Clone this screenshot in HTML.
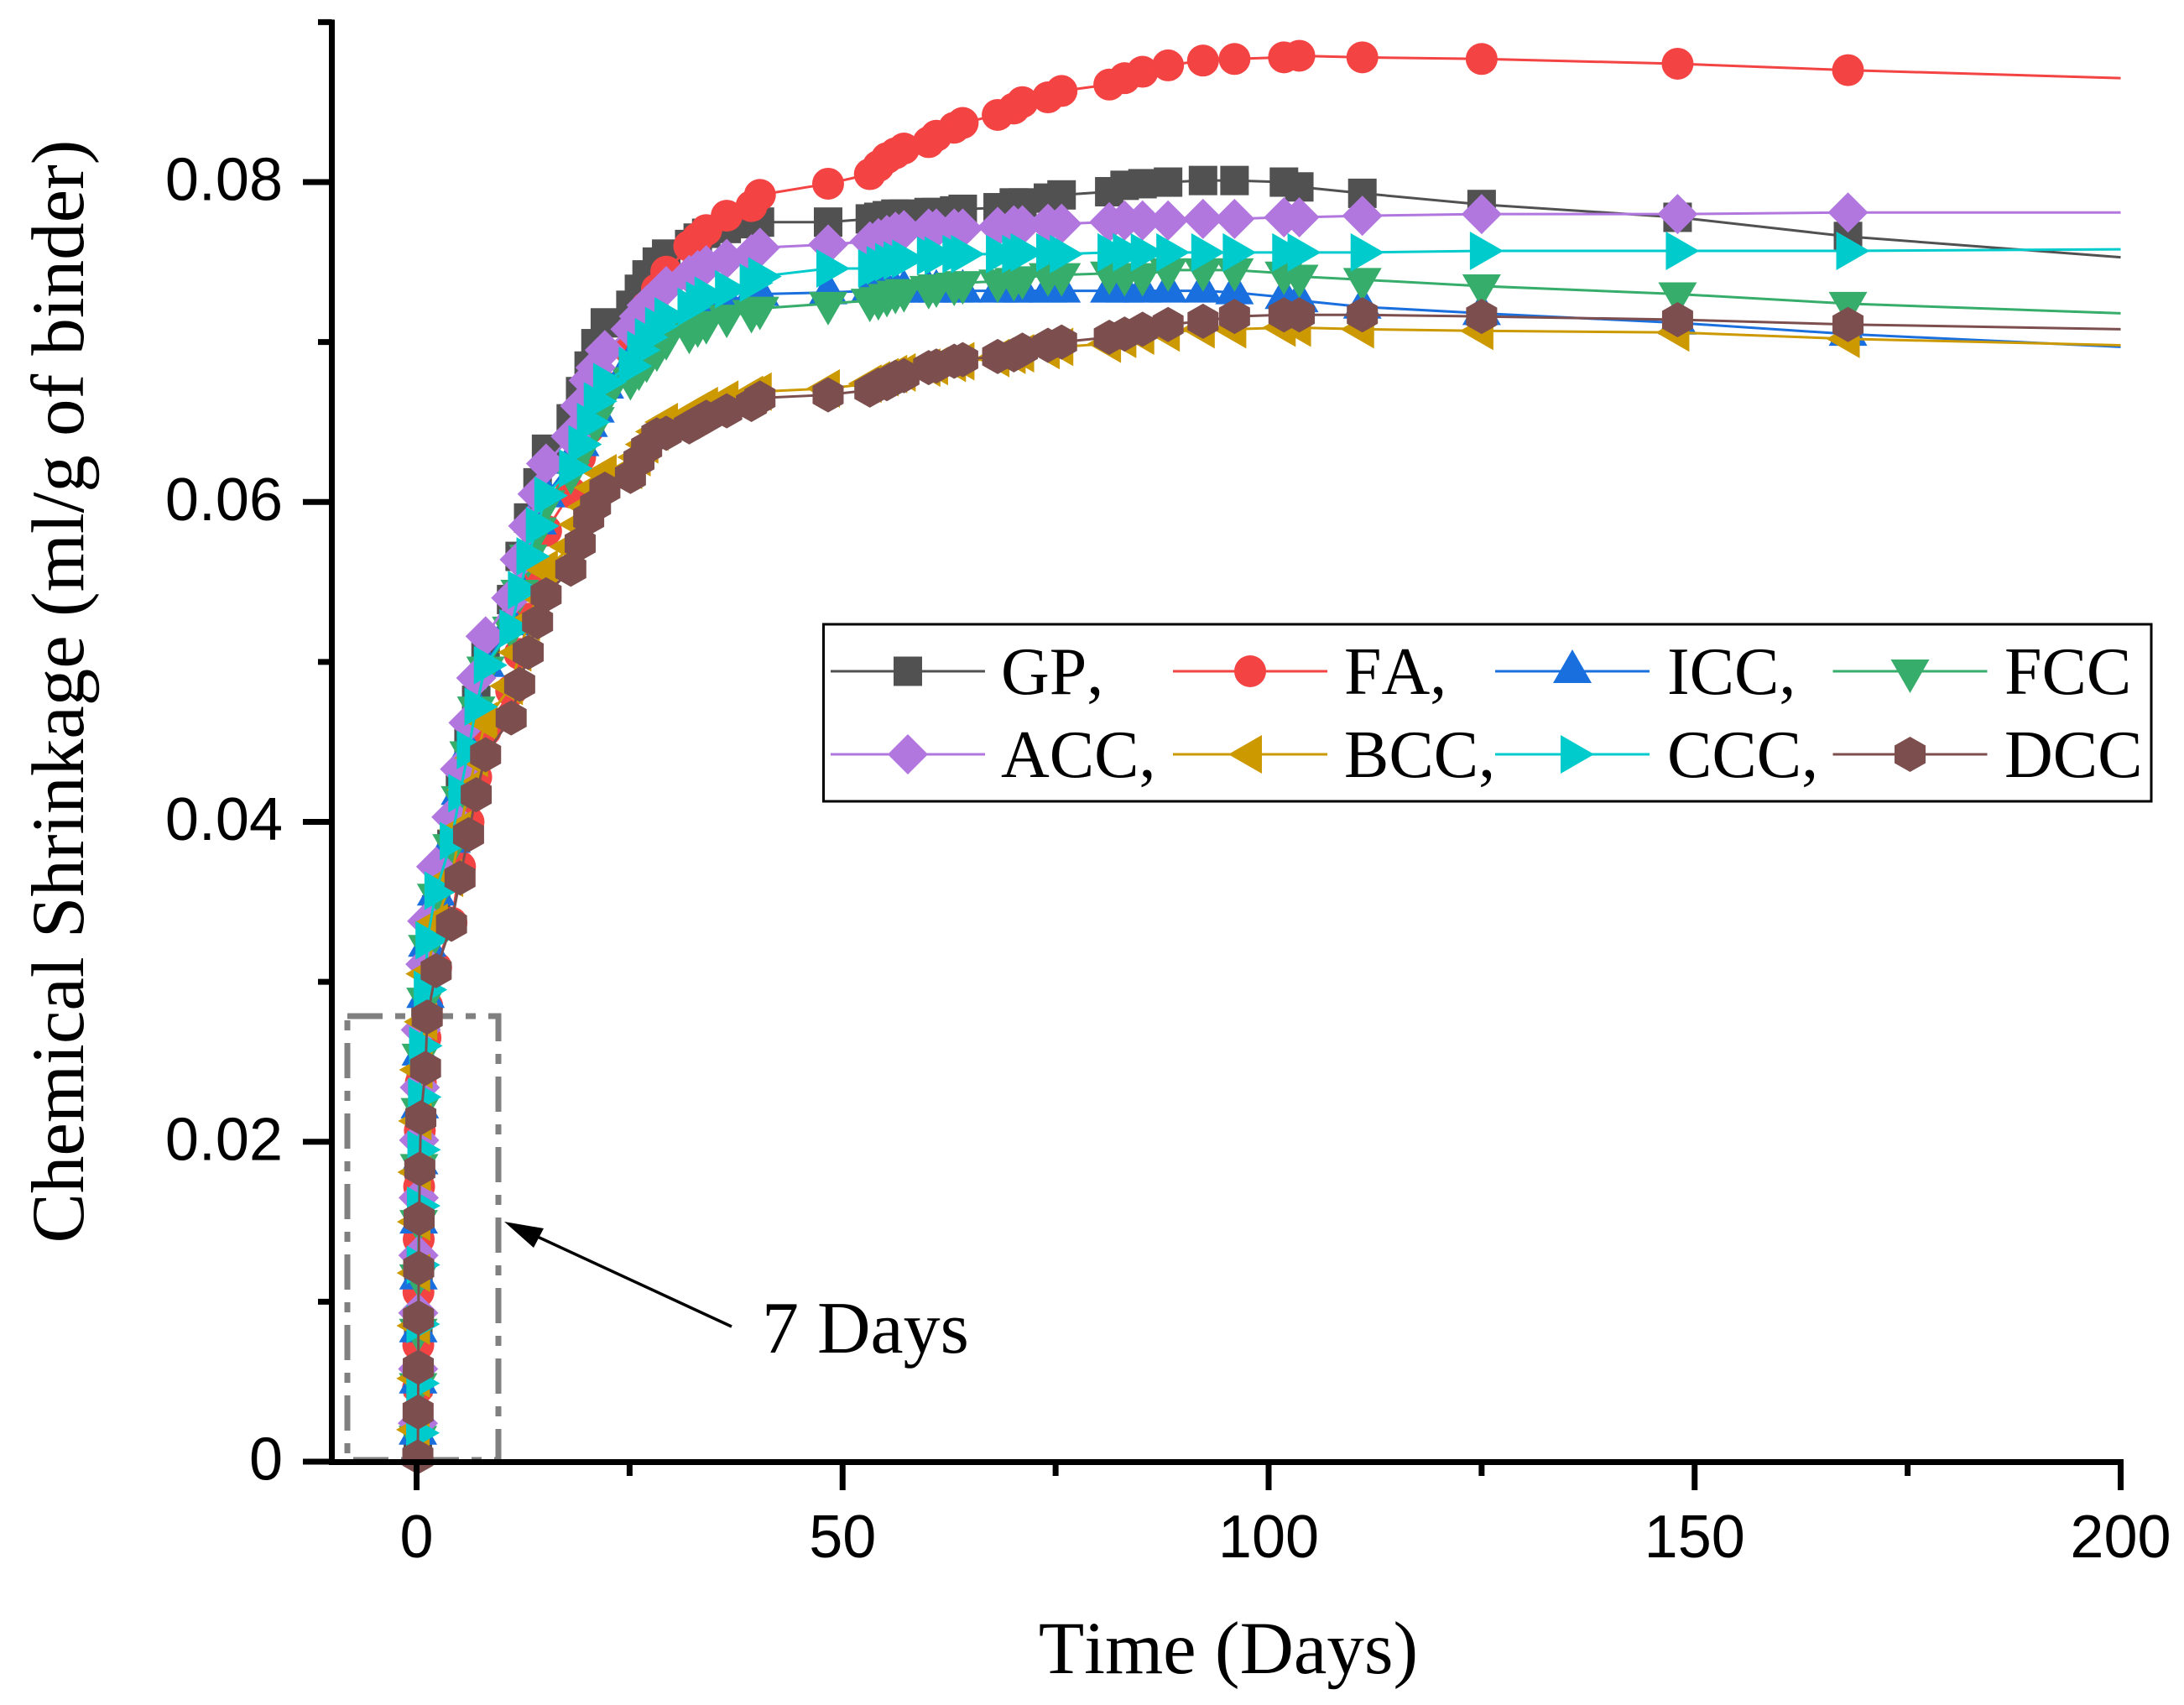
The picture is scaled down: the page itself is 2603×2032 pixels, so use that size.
<!DOCTYPE html>
<html lang="en">
<head>
<meta charset="utf-8">
<title>Chemical Shrinkage vs Time</title>
<style>
html,body{margin:0;padding:0;background:#fff;}
svg{display:block;}
svg text{font-kerning:none;}
</style>
</head>
<body>
<svg id="chart" xmlns="http://www.w3.org/2000/svg" width="2603" height="2032" viewBox="0 0 2603 2032">
<rect x="0" y="0" width="2603" height="2032" fill="#ffffff"/>
<rect x="414" y="1211" width="180" height="529" fill="none" stroke="#808080" stroke-width="7" stroke-dasharray="42 15 12 15"/>
<g id="series-layer"></g>
<g id="axis-layer"></g>
<text transform="translate(99 824) rotate(-90)" text-anchor="middle" font-family="'Liberation Serif',serif" font-size="89" fill="#000">Chemical Shrinkage (ml/g of binder)</text>
<text x="1464" y="1994" text-anchor="middle" font-family="'Liberation Serif',serif" font-size="89" fill="#000">Time (Days)</text>
<line x1="872" y1="1581" x2="630" y2="1469" stroke="#000" stroke-width="3.5"/>
<polygon points="601,1456 648,1464 636,1487" fill="#000"/>
<text x="908" y="1612" font-family="'Liberation Serif',serif" font-size="88" fill="#000">7 Days</text>
<rect x="981.5" y="744" width="1582.5" height="211" fill="#ffffff" stroke="#000" stroke-width="3"/>
<g id="legend-layer"></g>
</svg>
<script>
var times = [0.15,0.18,0.2,0.22,0.25,0.3,0.38,0.5,1.05,1.25,2.3,4.1,5.1,6.1,7,8.1,11.1,12.1,13.1,14.2,15.2,18.1,19.2,20.2,21,22.1,25.1,26.1,27,28.2,29.3,32,33,34,36.4,39.3,40.3,48.3,53.2,54.2,55.2,56.2,57.2,60.1,61,63.1,64.1,68.2,70.1,71.1,74.1,75.7,81.3,83.1,85.2,88.2,92.3,96,101.8,103.6,111,125,148,168,200];

var gpValues = [.0018,.0050,.0083,.0115,.0148,.0180,.0212,.0244,.0280,.0312,.0345,.0386,.0420,.0449,.0476,.0503,.0539,.0566,.0590,.0612,.0633,.0652,.0669,.0685,.0699,.0712,.0723,.0733,.0742,.0750,.0755,.0761,.0765,.0768,.0771,.0774,.0775,.0775,.0777,.0778,.0779,.0780,.0780,.0781,.0781,.0782,.0783,.0784,.0787,.0787,.0790,.0792,.0794,.0798,.0799,.0800,.0801,.0801,.0800,.0797,.0793,.0786,.0778,.0766,.0753];
var faValues = [.0022,.0046,.0073,.0106,.0139,.0172,.0207,.0237,.0265,.0285,.0309,.0337,.0372,.0400,.0428,.0457,.0482,.0505,.0527,.0553,.0582,.0606,.0628,.0646,.0660,.0672,.0695,.0708,.0722,.0733,.0744,.0760,.0765,.0770,.0779,.0785,.0792,.0799,.0805,.0810,.0815,.0818,.0821,.0825,.0829,.0834,.0837,.0842,.0846,.0850,.0853,.0857,.0861,.0865,.0869,.0873,.0876,.0877,.0878,.0879,.0878,.0877,.0874,.0870,.0865];
var iccValues = [.0018,.0050,.0082,.0115,.0150,.0187,.0222,.0255,.0291,.0323,.0355,.0388,.0418,.0445,.0472,.0498,.0524,.0545,.0567,.0587,.0604,.0625,.0636,.0648,.0657,.0672,.0687,.0694,.0700,.0706,.0712,.0718,.0720,.0722,.0726,.0729,.0730,.0731,.0732,.0732,.0732,.0732,.0732,.0732,.0732,.0732,.0732,.0732,.0732,.0732,.0732,.0732,.0732,.0732,.0732,.0732,.0732,.0731,.0728,.0726,.0722,.0718,.0712,.0705,.0697];
var fccValues = [.0015,.0048,.0082,.0116,.0150,.0185,.0220,.0254,.0289,.0322,.0354,.0385,.0415,.0443,.0471,.0496,.0521,.0544,.0566,.0583,.0600,.0618,.0630,.0642,.0652,.0665,.0677,.0683,.0688,.0695,.0702,.0706,.0710,.0712,.0716,.0719,.0721,.0724,.0726,.0727,.0729,.0731,.0732,.0734,.0735,.0736,.0737,.0738,.0739,.0740,.0742,.0742,.0743,.0742,.0742,.0745,.0745,.0745,.0743,.0741,.0739,.0735,.0730,.0724,.0718];
var accValues = [.0024,.0058,.0093,.0129,.0165,.0201,.0234,.0270,.0311,.0338,.0372,.0403,.0433,.0462,.0490,.0516,.0540,.0564,.0585,.0605,.0624,.0641,.0660,.0676,.0684,.0695,.0708,.0716,.0723,.0729,.0735,.0742,.0745,.0748,.0752,.0755,.0759,.0761,.0763,.0765,.0767,.0769,.0770,.0771,.0771,.0771,.0771,.0772,.0773,.0773,.0774,.0774,.0775,.0776,.0776,.0776,.0777,.0777,.0778,.0778,.0779,.0780,.0780,.0781,.0781];
var bccValues = [.0020,.0052,.0085,.0118,.0150,.0181,.0213,.0245,.0275,.0305,.0337,.0365,.0395,.0420,.0440,.0463,.0485,.0506,.0525,.0542,.0558,.0572,.0586,.0597,.0609,.0618,.0620,.0628,.0636,.0644,.0650,.0654,.0657,.0660,.0664,.0667,.0669,.0671,.0674,.0676,.0678,.0680,.0681,.0684,.0685,.0687,.0688,.0690,.0692,.0693,.0695,.0697,.0699,.0702,.0704,.0706,.0708,.0708,.0709,.0709,.0708,.0707,.0706,.0702,.0698];
var cccValues = [.0018,.0049,.0086,.0123,.0160,.0195,.0228,.0260,.0295,.0326,.0357,.0388,.0418,.0445,.0472,.0498,.0521,.0545,.0566,.0585,.0604,.0621,.0636,.0650,.0663,.0675,.0685,.0695,.0703,.0710,.0716,.0722,.0726,.0729,.0733,.0737,.0741,.0746,.0746,.0748,.0750,.0751,.0752,.0754,.0754,.0755,.0755,.0755,.0755,.0756,.0756,.0755,.0756,.0756,.0756,.0756,.0756,.0756,.0756,.0756,.0756,.0757,.0757,.0757,.0758];
var dccValues = [.0003,.0031,.0059,.0090,.0121,.0152,.0183,.0215,.0246,.0278,.0307,.0336,.0365,.0392,.0417,.0442,.0465,.0486,.0506,.0525,.0542,.0558,.0574,.0590,.0598,.0608,.0616,.0626,.0634,.0642,.0643,.0647,.0650,.0653,.0657,.0661,.0665,.0667,.0670,.0673,.0674,.0678,.0679,.0684,.0685,.0688,.0689,.0691,.0692,.0695,.0698,.0700,.0703,.0705,.0708,.0711,.0713,.0716,.0717,.0717,.0717,.0716,.0714,.0711,.0708];

var seriesNames = ["GP","FA","ICC","FCC","ACC","BCC","CCC","DCC"];
var legendLabels = ["GP,","FA,","ICC,","FCC","ACC,","BCC,","CCC,","DCC"];
var xTickValues = [0,50,100,150,200];
var xMinorValues = [25,75,125,175];
var yTickValues = [0,0.02,0.04,0.06,0.08];
var yTickLabels = ["0","0.02","0.04","0.06","0.08"];
var yMinorValues = [0.01,0.03,0.05,0.07,0.09];

var seriesValues = [gpValues,faValues,iccValues,fccValues,accValues,bccValues,cccValues,dccValues];
var seriesColors = ["#515151","#F44343","#1A6FDF","#37AD6B","#B177DE","#CC9900","#00CBCC","#7D4E4E"];
var seriesShapes = ["square","circle","up","down","diamond","left","right","hexagon"];

var NS = "http://www.w3.org/2000/svg";
function xScale(t){ return 496.5 + t * 10.155; }
function yScale(v){ return 1742 - v * 19062; }
var X_LAST = 200;

function shapeElement(shape, x, y, color){
  var el;
  if(shape === "circle"){
    el = document.createElementNS(NS,"circle");
    el.setAttribute("cx",x);
    el.setAttribute("cy",y);
    el.setAttribute("r",19);
  } else if(shape === "square"){
    el = document.createElementNS(NS,"rect");
    el.setAttribute("x",x-17);
    el.setAttribute("y",y-17.5);
    el.setAttribute("width",34);
    el.setAttribute("height",35);
  } else {
    var p;
    if(shape === "up") p = [[x,y-26],[x+23,y+14],[x-23,y+14]];
    if(shape === "down") p = [[x,y+26],[x+23,y-14],[x-23,y-14]];
    if(shape === "left") p = [[x-26,y],[x+14,y-23],[x+14,y+23]];
    if(shape === "right") p = [[x+26,y],[x-14,y-23],[x-14,y+23]];
    if(shape === "diamond") p = [[x,y-24],[x+24,y],[x,y+24],[x-24,y]];
    if(shape === "hexagon") p = [[x,y-21],[x+18.5,y-10.5],[x+18.5,y+10.5],[x,y+21],[x-18.5,y+10.5],[x-18.5,y-10.5]];
    el = document.createElementNS(NS,"polygon");
    el.setAttribute("points",p.map(function(q){return q[0]+","+q[1];}).join(" "));
  }
  el.setAttribute("fill",color);
  return el;
}

var seriesLayer = document.getElementById("series-layer");
seriesNames.forEach(function(name,i){
  var group = document.createElementNS(NS,"g");
  
  
  var values = seriesValues[i];
  var line = document.createElementNS(NS,"polyline");
  
  
  line.setAttribute("fill","none");
  line.setAttribute("stroke",seriesColors[i]);
  line.setAttribute("stroke-width","3");
  line.setAttribute("points",times.map(function(t,k){return xScale(t)+","+yScale(values[k]);}).join(" "));
  group.appendChild(line);
  times.forEach(function(t,k){
    if(t >= X_LAST) return;
    var marker = shapeElement(seriesShapes[i],xScale(t),yScale(values[k]),seriesColors[i]);
    
    
    group.appendChild(marker);
  });
  seriesLayer.appendChild(group);
});

var axisLayer = document.getElementById("axis-layer");
function axisLine(x1,y1,x2,y2,name){
  var l = document.createElementNS(NS,"line");
  l.setAttribute("x1",x1);
  l.setAttribute("y1",y1);
  l.setAttribute("x2",x2);
  l.setAttribute("y2",y2);
  l.setAttribute("stroke","#000");
  l.setAttribute("stroke-width","7");
  
  
  axisLayer.appendChild(l);
}
function axisText(x,y,anchor,str,name){
  var t = document.createElementNS(NS,"text");
  t.setAttribute("x",x);
  t.setAttribute("y",y);
  t.setAttribute("text-anchor",anchor);
  t.setAttribute("font-family","'Liberation Sans',sans-serif");
  t.setAttribute("font-size","72");
  t.setAttribute("fill","#000");
  
  
  t.textContent = str;
  axisLayer.appendChild(t);
}
var axisX = 395.5, axisY = 1742.5;
axisLine(axisX,yScale(0.09)-3,axisX,axisY+3.5,"y-axis-line");
axisLine(axisX-3.5,axisY,xScale(200)+3.5,axisY,"x-axis-line");
xTickValues.forEach(function(v){
  axisLine(xScale(v),axisY,xScale(v),1776,"x-major-tick");
  axisText(xScale(v),1856,"middle",String(v),"x-tick-label");
});
xMinorValues.forEach(function(v){
  axisLine(xScale(v),axisY,xScale(v),1759,"x-minor-tick");
});
yTickValues.forEach(function(v,i){
  axisLine(361,yScale(v),axisX,yScale(v),"y-major-tick");
  axisText(337,yScale(v)+21.5,"end",yTickLabels[i],"y-tick-label");
});
yMinorValues.forEach(function(v){
  axisLine(379,yScale(v),axisX,yScale(v),"y-minor-tick");
});

var legendLayer = document.getElementById("legend-layer");
var legendLineX = [990,1398,1782,2184.5];
var legendTextX = [1193,1602,1987,2389];
var legendRowY = [800,899];
legendLabels.forEach(function(label,i){
  var col = i % 4, row = Math.floor(i / 4);
  var y = legendRowY[row];
  var line = document.createElementNS(NS,"line");
  line.setAttribute("x1",legendLineX[col]);
  line.setAttribute("x2",legendLineX[col]+184);
  line.setAttribute("y1",y);
  line.setAttribute("y2",y);
  line.setAttribute("stroke",seriesColors[i]);
  line.setAttribute("stroke-width","3");
  
  
  legendLayer.appendChild(line);
  var marker = shapeElement(seriesShapes[i],legendLineX[col]+92,y,seriesColors[i]);
  
  
  legendLayer.appendChild(marker);
  var text = document.createElementNS(NS,"text");
  text.setAttribute("x",legendTextX[col]);
  text.setAttribute("y",y+27);
  text.setAttribute("font-family","'Liberation Serif',serif");
  text.setAttribute("font-size","80");
  text.setAttribute("fill","#000");
  
  
  text.textContent = label;
  legendLayer.appendChild(text);
});
</script>
</body>
</html>
